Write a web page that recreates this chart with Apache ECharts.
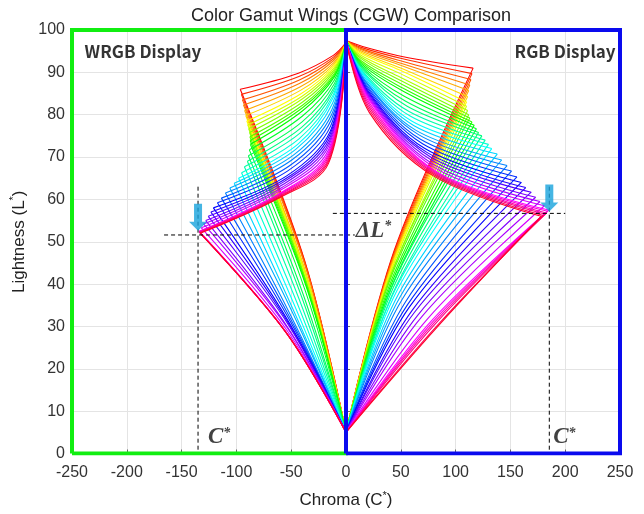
<!DOCTYPE html>
<html>
<head>
<meta charset="utf-8">
<script src="https://cdn.jsdelivr.net/npm/echarts@6/dist/echarts.min.js"></script>
<style>
  html, body { margin: 0; padding: 0; background: #fff; }
  #chart { width: 644px; height: 514px; }
</style>
</head>
<body>
<div id="chart"></div>
<script>
// axis ranges
var chromaTicks = [-250, 250, 50]
var lightTicks = [0, 100, 10]

// one curve per hue step (10 deg)
// RGB display (right wing)
var rgbTopL = 97.5
var rgbBottomL = 5
var rgbCuspC = [116, 115, 114, 113, 112, 111, 110, 110, 111, 112, 113, 115, 117, 119, 121, 124, 127, 130,
  133, 138, 142, 147, 151, 156, 160, 164, 169, 173, 177, 181, 185, 184, 183, 182, 180, 178]
var rgbCuspL = [91, 89.7, 88.3, 87, 85.7, 84.3, 83, 82, 81, 80, 79.2, 78.3, 77.5, 76.7, 75.8, 75, 74, 73,
  72, 70.7, 69.3, 68, 66.7, 65.3, 64, 62.8, 61.7, 60.5, 59.5, 58.5, 57.5, 57.2, 56.8, 56.5, 56.2, 56]
var rgbUpperL1 = [96.2, 95.9, 95.6, 95.4, 95.1, 94.8, 94.5, 94.1, 93.7, 93.3, 92.8, 92.4, 92, 91.6, 91.2, 90.8, 90.3, 89.9,
  89.5, 88.9, 88.3, 87.8, 87.2, 86.6, 86, 85.5, 85, 84.5, 84, 83.5, 83, 82.5, 82, 81.5, 81, 80.5]
var rgbUpperL2 = [93.7, 93.2, 92.6, 92.1, 91.6, 91, 90.5, 89.7, 88.8, 88, 87.2, 86.3, 85.5, 84.3, 83.2, 82, 80.8, 79.7,
  78.5, 77.4, 76.3, 75.3, 74.2, 73.1, 72, 71.1, 70.2, 69.3, 68.3, 67.4, 66.5, 66.3, 66.1, 65.9, 65.7, 65.5]
var rgbLowerRatio = [0.38, 0.38, 0.38, 0.38, 0.38, 0.38, 0.38, 0.38, 0.38, 0.37, 0.37, 0.37, 0.37, 0.37, 0.36, 0.36, 0.36, 0.35,
  0.35, 0.35, 0.35, 0.35, 0.36, 0.36, 0.36, 0.37, 0.37, 0.38, 0.39, 0.41, 0.42, 0.43, 0.44, 0.45, 0.47, 0.48]

// WRGB display (left wing)
var wrgbTopL = 97
var wrgbBottomL = 5
var wrgbCuspC = [-96.5, -95.5, -94.5, -93.5, -92.5, -91.5, -90.5, -89.7, -88.8, -88, -87.7, -87.5, -87.3, -88.2, -89.1, -90, -92.7, -95.3,
  -98, -102, -106, -110, -113.7, -117.3, -121, -123.3, -125.7, -128, -130, -132, -134, -134, -133.8, -133.5, -133.2, -133]
var wrgbCuspL = [86, 84.8, 83.5, 82.3, 81, 79.8, 78.5, 77.6, 76.7, 75.8, 74.8, 73.9, 73, 71.7, 70.3, 69, 67.7, 66.3,
  65, 63.8, 62.7, 61.5, 60.3, 59.2, 58, 57, 56, 55, 54.2, 53.3, 52.5, 52.4, 52.3, 52.2, 52.1, 52]
var wrgbUpperL1 = [94, 93.6, 93.2, 92.8, 92.3, 91.9, 91.5, 91.1, 90.7, 90.3, 89.8, 89.4, 89, 88.2, 87.3, 86.5, 85.7, 84.8,
  84, 82.7, 81.3, 80, 78.7, 77.3, 76, 75.2, 74.3, 73.5, 72.7, 71.8, 71, 70.5, 70, 69.5, 69, 68.5]
var wrgbUpperL2 = [89.8, 89, 88.2, 87.4, 86.6, 85.8, 85, 84.3, 83.7, 83, 82.3, 81.7, 81, 79.7, 78.3, 77, 75.7, 74.3,
  73, 71.8, 70.5, 69.3, 68, 66.8, 65.5, 64.8, 64.2, 63.5, 62.8, 62.2, 61.5, 61.3, 61.1, 60.9, 60.7, 60.5]
var wrgbLowerRatio = [0.39, 0.39, 0.39, 0.39, 0.40, 0.40, 0.40, 0.40, 0.41, 0.41, 0.41, 0.41, 0.41, 0.42, 0.44, 0.45, 0.46, 0.47,
  0.48, 0.48, 0.47, 0.47, 0.46, 0.45, 0.44, 0.43, 0.42, 0.42, 0.41, 0.41, 0.41, 0.41, 0.41, 0.41, 0.41, 0.41]

// markers: cusp arrows and dashed guides
var arrowC = [-135, 185.5]
var arrowL = [52.5, 57]
var guideLines = [
  [[-166, 51.6], [8, 51.6]],
  [[-135, 63], [-135, 0]],
  [[-12, 56.7], [200, 56.7]],
  [[185.5, 63], [185.5, 0]]
]

// where the upper knees sit, as share of cusp chroma
var KNEE1 = 0.12
var KNEE2 = 0.45

function wingSeries (cuspC, cuspL, upL1, upL2, lowRatio, topL, botL) {
  var out = []
  for (var i = 0; i < cuspC.length; i++) {
    var color = 'hsl(' + (i * 360 / cuspC.length) + ',100%,50%)'
    var c = cuspC[i]
    var l = cuspL[i]
    var common = {
      type: 'line',
      showSymbol: false,
      symbol: 'none',
      silent: true,
      smooth: 0.35,
      z: 2,
      lineStyle: { width: 1.1, color: color }
    }
    out.push(Object.assign({}, common, {
      data: [[0, topL], [c * KNEE1, upL1[i]], [c * KNEE2, upL2[i]], [c, l]]
    }))
    out.push(Object.assign({}, common, {
      data: [[c, l], [c * lowRatio[i], (l + botL) / 2], [0, botL]]
    }))
  }
  return out
}

var chart = echarts.init(document.getElementById('chart'))

var series = []
series = series.concat(wingSeries(wrgbCuspC, wrgbCuspL, wrgbUpperL1, wrgbUpperL2, wrgbLowerRatio, wrgbTopL, wrgbBottomL))
series = series.concat(wingSeries(rgbCuspC, rgbCuspL, rgbUpperL1, rgbUpperL2, rgbLowerRatio, rgbTopL, rgbBottomL))

guideLines.forEach(function (seg) {
  series.push({
    type: 'line',
    data: seg,
    showSymbol: false,
    symbol: 'none',
    silent: true,
    z: 3,
    lineStyle: { width: 1, color: '#000', type: [4, 3] }
  })
})

series.push({
  type: 'scatter',
  data: arrowC.map(function (c, i) { return [c, arrowL[i]] }),
  symbol: 'path://M5,0 L13,0 L13,18 L18,18 L9,27 L0,18 L5,18 Z',
  symbolSize: [18, 27],
  symbolOffset: [0, -14],
  itemStyle: { color: '#17a2dc' },
  silent: true,
  z: 4
})

// display frames: WRGB half in green, RGB half in blue
series.push({
  type: 'line',
  data: [[chromaTicks[0], lightTicks[0]], [chromaTicks[0], lightTicks[1]], [0, lightTicks[1]], [0, lightTicks[0]], [chromaTicks[0], lightTicks[0]]],
  showSymbol: false,
  symbol: 'none',
  silent: true,
  z: 5,
  lineStyle: { width: 4, color: '#11ee11', join: 'miter' }
})
series.push({
  type: 'line',
  data: [[0, lightTicks[0]], [0, lightTicks[1]], [chromaTicks[1], lightTicks[1]], [chromaTicks[1], lightTicks[0]], [0, lightTicks[0]]],
  showSymbol: false,
  symbol: 'none',
  silent: true,
  z: 6,
  lineStyle: { width: 4, color: '#0a0aee', join: 'miter' }
})

// annotations
var serifRich = {
  t: { fontFamily: 'Liberation Serif', fontStyle: 'italic', fontWeight: 'bold', fontSize: 23, color: '#111' },
  s: { fontFamily: 'Liberation Serif', fontStyle: 'italic', fontWeight: 'bold', fontSize: 14, color: '#111', verticalAlign: 'top' }
}
function textPoint (c, l, text, align, rich, style) {
  return {
    value: [c, l],
    label: Object.assign({ show: true, formatter: text, position: [0, 0], align: align, verticalAlign: 'middle', rich: rich }, style || {})
  }
}
var boxFont = { fontFamily: 'Noto Sans CJK KR', fontWeight: 'bold', fontSize: 17, color: '#000' }
series.push({
  type: 'scatter',
  symbolSize: 0,
  silent: true,
  z: 7,
  data: [
    textPoint(9, 52.6, '{t|ΔL}{s|*}', 'left', serifRich),
    textPoint(-126, 3.8, '{t|C}{s|*}', 'left', serifRich),
    textPoint(189, 3.8, '{t|C}{s|*}', 'left', serifRich),
    textPoint(-238.5, 95, 'WRGB Display', 'left', null, boxFont),
    textPoint(246, 95, 'RGB Display', 'right', null, boxFont)
  ]
})

var axisFont = { fontFamily: 'Liberation Sans', fontSize: 16, color: '#333' }
var nameRich = {
  a: { fontFamily: 'Liberation Sans', fontSize: 17, color: '#222', lineHeight: 20 },
  s: { fontFamily: 'Liberation Sans', fontSize: 11, color: '#222', verticalAlign: 'top', lineHeight: 20 }
}

chart.setOption({
  animation: false,
  title: {
    text: 'Color Gamut Wings (CGW) Comparison',
    left: 346,
    textAlign: 'center',
    top: 2,
    textStyle: { fontFamily: 'Liberation Sans', fontSize: 18, fontWeight: 'normal', color: '#222' }
  },
  grid: { left: 72, right: 24, top: 30, bottom: 59 },
  xAxis: {
    type: 'value',
    min: chromaTicks[0],
    max: chromaTicks[1],
    interval: chromaTicks[2],
    name: '{a|Chroma (C}{s|*}{a|)}',
    nameLocation: 'middle',
    nameGap: 37,
    nameTextStyle: { rich: nameRich },
    axisLine: { show: false },
    axisTick: { show: true, inside: true, length: 4, lineStyle: { color: '#666' } },
    axisLabel: Object.assign({ margin: 11 }, axisFont),
    splitLine: { show: true, lineStyle: { color: '#e4e4e4' } }
  },
  yAxis: {
    type: 'value',
    min: lightTicks[0],
    max: lightTicks[1],
    interval: lightTicks[2],
    name: '{a|Lightness (L}{s|*}{a|)}',
    nameLocation: 'middle',
    nameGap: 40,
    nameTextStyle: { rich: nameRich },
    axisLine: { show: false },
    axisTick: { show: true, inside: true, length: 4, lineStyle: { color: '#666' } },
    axisLabel: Object.assign({ margin: 7 }, axisFont),
    splitLine: { show: true, lineStyle: { color: '#e4e4e4' } }
  },
  series: series
})
</script>
</body>
</html>
